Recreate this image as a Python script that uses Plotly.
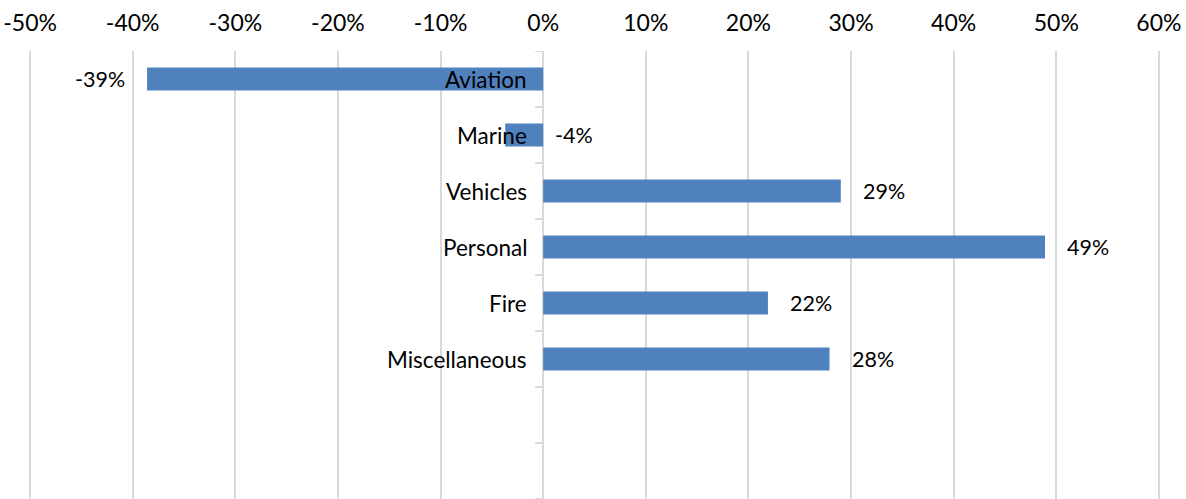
import plotly.graph_objects as go

categories = ["Aviation", "Marine", "Vehicles", "Personal", "Fire", "Miscellaneous"]
values = [-38.6, -3.7, 29.0, 48.9, 21.9, 27.9]
value_labels = ["-39%", "-4%", "29%", "49%", "22%", "28%"]
n_slots = 8  # two empty category slots at the bottom
tick_vals = [-50, -40, -30, -20, -10, 0, 10, 20, 30, 40, 50, 60]
tick_text = [f"{v}%" for v in tick_vals]

FONT = "Lato"
BLUE = "#4F81BD"
GRID = "#D9D9D9"

fig = go.Figure()
fig.add_trace(go.Bar(
    x=values, y=list(range(len(categories))), orientation="h",
    marker=dict(color=BLUE, line=dict(width=0)), width=0.41,
    hoverinfo="skip",
))

annotations = []
for i, (c, v, lab) in enumerate(zip(categories, values, value_labels)):
    annotations.append(dict(x=0, y=i, xref="x", yref="y", text=c, showarrow=False,
                            xanchor="right", xshift=-14, font=dict(family=FONT, size=22.5, color="#000")))
    if v < -10:
        annotations.append(dict(x=v, y=i, xref="x", yref="y", text=lab, showarrow=False,
                                xanchor="right", xshift=-20, font=dict(family=FONT, size=21.5, color="#000")))
    else:
        annotations.append(dict(x=max(v, 0), y=i, xref="x", yref="y", text=lab, showarrow=False,
                                xanchor="left", xshift=10 if v < 0 else 20,
                                font=dict(family=FONT, size=21.5, color="#000")))

shapes = []
for k in range(n_slots + 1):
    shapes.append(dict(type="line", xref="x", yref="y", xsizemode="pixel", xanchor=0,
                       x0=-8, x1=0, y0=k - 0.5, y1=k - 0.5, line=dict(color=GRID, width=2), layer="below"))

fig.update_layout(
    width=1186, height=499,
    margin=dict(l=27, r=24, t=51, b=0),
    paper_bgcolor="white", plot_bgcolor="white",
    showlegend=False,
    annotations=annotations, shapes=shapes,
    xaxis=dict(range=[-50.3, 60.3], side="top", tickvals=tick_vals, ticktext=tick_text,
               showgrid=True, gridcolor=GRID, gridwidth=2,
               zeroline=True, zerolinecolor=GRID, zerolinewidth=2,
               showline=False, ticks="", ticklabelstandoff=14, ticklabeloverflow="allow",
               tickfont=dict(family=FONT, size=23, color="#000"),
               fixedrange=True),
    yaxis=dict(range=[n_slots - 0.5, -0.5], showticklabels=False, showgrid=False,
               zeroline=False, showline=False, ticks="", fixedrange=True),
)

fig.write_html("out.html",
               config={"displayModeBar": False, "staticPlot": True},
               post_script="document.body.style.margin='0';document.body.style.overflow='hidden';")
